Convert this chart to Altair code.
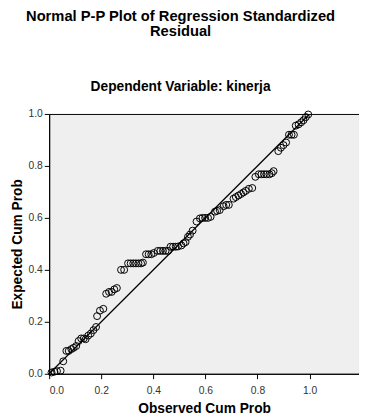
import altair as alt
import pandas as pd

observed = [0.009, 0.02, 0.03, 0.044, 0.054, 0.066, 0.075, 0.085, 0.094, 0.104,
            0.113, 0.123, 0.133, 0.14, 0.15, 0.16, 0.17, 0.18, 0.184, 0.195,
            0.208, 0.219, 0.23, 0.24, 0.25, 0.26, 0.276, 0.288, 0.303, 0.313,
            0.323, 0.333, 0.343, 0.353, 0.36, 0.372, 0.382, 0.392, 0.402, 0.417,
            0.427, 0.437, 0.447, 0.457, 0.466, 0.476, 0.486, 0.495, 0.508, 0.516,
            0.524, 0.533, 0.541, 0.551, 0.566, 0.579, 0.589, 0.599, 0.61, 0.62,
            0.637, 0.645, 0.655, 0.67, 0.68, 0.69, 0.708, 0.717, 0.727, 0.737,
            0.746, 0.755, 0.767, 0.78, 0.792, 0.805, 0.815, 0.825, 0.835, 0.846,
            0.855, 0.862, 0.88, 0.89, 0.9, 0.91, 0.921, 0.931, 0.94, 0.947,
            0.958, 0.968, 0.977, 0.986, 0.995]
expected = [0.005, 0.008, 0.01, 0.012, 0.048, 0.088, 0.088, 0.095, 0.10, 0.107,
            0.126, 0.136, 0.136, 0.133, 0.147, 0.155, 0.168, 0.18, 0.222, 0.243,
            0.25, 0.308, 0.315, 0.315, 0.325, 0.33, 0.40, 0.40, 0.425, 0.425,
            0.425, 0.425, 0.425, 0.425, 0.428, 0.46, 0.46, 0.46, 0.465, 0.473,
            0.473, 0.473, 0.473, 0.473, 0.489, 0.489, 0.489, 0.49, 0.494, 0.502,
            0.507, 0.527, 0.536, 0.551, 0.586, 0.598, 0.60, 0.60, 0.60, 0.604,
            0.624, 0.627, 0.63, 0.645, 0.65, 0.65, 0.674, 0.68, 0.686, 0.692,
            0.698, 0.704, 0.712, 0.715, 0.758, 0.768, 0.768, 0.768, 0.768, 0.768,
            0.772, 0.78, 0.857, 0.87, 0.88, 0.89, 0.92, 0.92, 0.92, 0.955,
            0.96, 0.968, 0.976, 0.988, 0.998]

line_x = [0.0, 1.0]
line_y = [0.0, 1.0]
ticks = [0.0, 0.2, 0.4, 0.6, 0.8, 1.0]

pts = pd.DataFrame({"obs": observed, "exp": expected})
diag = pd.DataFrame({"obs": line_x, "exp": line_y})

FONT = "Liberation Sans"

xscale = alt.Scale(domain=[0, 1.19], nice=False, zero=False)
yscale = alt.Scale(domain=[0, 1.0], nice=False, zero=False)

xaxis = alt.Axis(title="Observed Cum Prob", values=ticks, format=".1f", grid=False,
                 tickSize=5, tickColor="black", domainColor="black",
                 labelColor="#333", labelFontSize=10.5, labelFont=FONT,
                 titleFont=FONT, titleFontSize=14, titleFontWeight="bold",
                 titleColor="black", titlePadding=6, labelPadding=7)
yaxis = alt.Axis(title="Expected Cum Prob", values=ticks, format=".1f", grid=False,
                 tickSize=5, tickColor="black", domainColor="black",
                 labelColor="#333", labelFontSize=10.5, labelFont=FONT,
                 titleFont=FONT, titleFontSize=14, titleFontWeight="bold",
                 titleColor="black", titlePadding=4, labelPadding=2)

line = alt.Chart(diag).mark_line(color="black", strokeWidth=1.3, clip=True).encode(
    x=alt.X("obs:Q", scale=xscale, axis=xaxis),
    y=alt.Y("exp:Q", scale=yscale, axis=yaxis),
)
points = alt.Chart(pts).mark_point(shape="circle", filled=False, color="black",
                                   size=50, strokeWidth=1, opacity=1).encode(
    x=alt.X("obs:Q", scale=xscale),
    y=alt.Y("exp:Q", scale=yscale),
)

chart = alt.layer(line, points).properties(
    width=316,
    height=265,
    background="white",
    title=alt.TitleParams(
        text=["Normal P-P Plot of Regression Standardized", "Residual"],
        subtitle="Dependent Variable: kinerja",
        font=FONT, fontSize=15, fontWeight="bold", color="black",
        subtitleFont=FONT, subtitleFontSize=14, subtitleFontWeight="bold",
        subtitleColor="black", subtitlePadding=42, lineHeight=16,
        anchor="middle", dx=-24, offset=15,
    ),
    autosize=alt.AutoSizeParams(type="none"),
    padding={"left": 42, "top": 104, "right": 0, "bottom": 40},
).configure_view(
    fill="#efefef", stroke="black", strokeWidth=1
)

chart.save("out.html", embed_options={"renderer": "svg", "actions": False})
